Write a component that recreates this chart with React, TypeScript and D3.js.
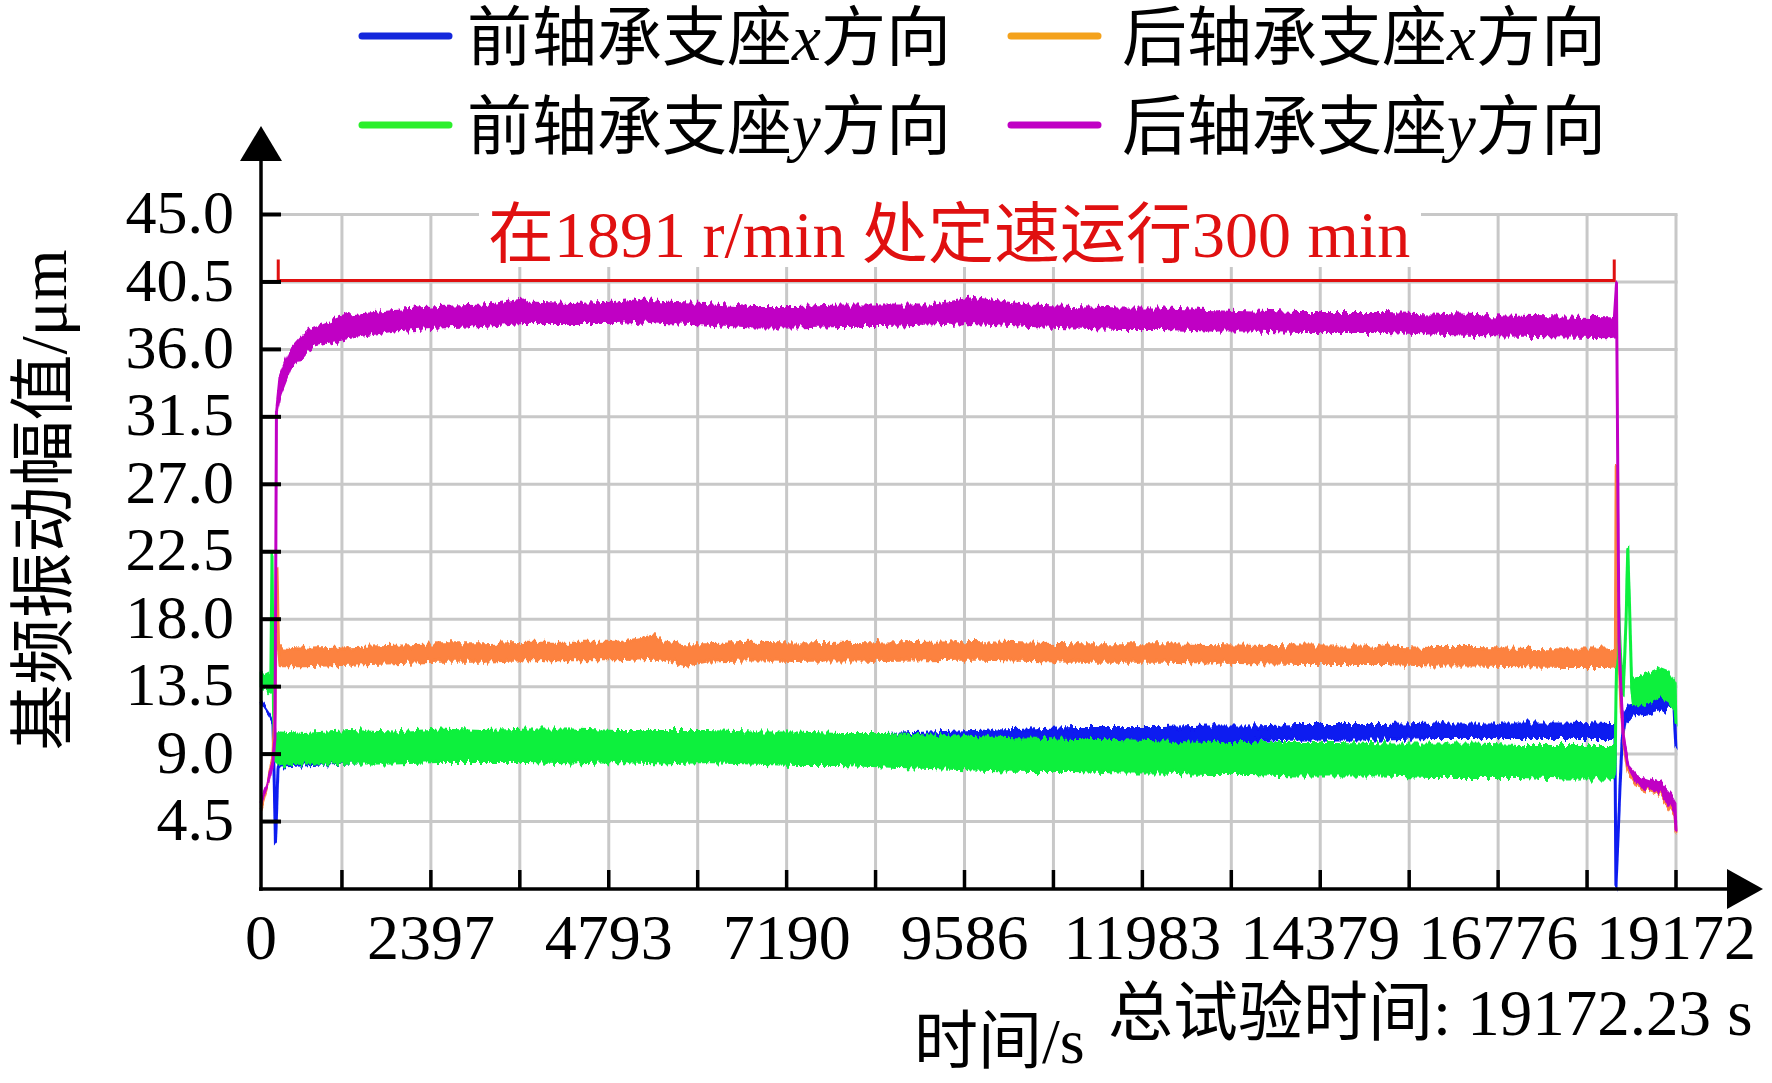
import { useEffect, useRef } from "react";
import * as d3 from "d3";

const WIDTH = 1772;
const HEIGHT = 1083;

const LATIN = "'Liberation Serif', 'Noto Sans CJK SC', serif";

// total test time, s
const TOTAL_TIME = 19172;
const xTickLabels = ["0", "2397", "4793", "7190", "9586", "11983", "14379", "16776", "19172"];
const yTickValues = [4.5, 9, 13.5, 18, 22.5, 27, 31.5, 36, 40.5, 45];

// constant speed run (300 min) bracket
const runStart = 340;
const runEnd = 18340;
const bracketLevel = 40.6;

const annotation = "在1891 r/min 处定速运行300 min";
const xTitle = "时间/s";
const totalNote = "总试验时间: 19172.23 s";
const yTitle = "基频振动幅值/μm";

// legend: [before, italic letter, after]
const legendLabels: [string, string, string][] = [
	["前轴承支座", "x", "方向"],
	["后轴承支座", "x", "方向"],
	["前轴承支座", "y", "方向"],
	["后轴承支座", "y", "方向"],
];
const legendColors = ["#1428dc", "#f4a21c", "#2cef2c", "#c000c4"];

// [time s, band low, band high] in um
const frontX: [number, number, number][] = [
	[110, 12.5, 12.5], [175, 12.0, 12.0], [229, 11.6, 11.6], [269, 11.2, 11.2],
	[303, 3.0, 3.0], [337, 8.0, 8.0], [364, 8.2, 8.9], [800, 8.3, 9.1],
	[1293, 8.4, 9.2], [1900, 8.5, 9.3], [2500, 8.5, 9.4], [3100, 8.6, 9.4],
	[3705, 8.6, 9.4], [4300, 8.7, 9.6], [4904, 8.8, 9.6], [5500, 8.9, 9.7],
	[6103, 9.0, 9.8], [6700, 9.1, 9.9], [7316, 9.2, 10.0], [7900, 9.3, 10.1],
	[8515, 9.4, 10.3], [9116, 9.5, 10.4], [9707, 9.7, 10.5], [10455, 9.8, 10.6],
	[11062, 9.8, 10.7], [11662, 9.8, 10.7], [12260, 9.9, 10.7], [12867, 9.9, 10.8],
	[13466, 9.9, 10.8], [14066, 10.0, 10.9], [14672, 10.0, 10.9], [15265, 10.0, 10.9],
	[15871, 10.1, 11.0], [16473, 10.1, 11.0], [17070, 10.1, 11.0], [17676, 10.1, 11.0],
	[18277, 10.1, 10.9], [18335, 10.1, 10.9], [18350, 10.2, 10.2], [18362, 0, 0],
	[18404, 5, 5], [18424, 7.5, 7.5], [18444, 9.7, 9.7], [18485, 11.2, 11.8],
	[18552, 11.5, 12.3], [18821, 11.7, 12.5], [19024, 12.0, 12.8], [19118, 12.2, 13.0],
	[19145, 11.9, 12.6], [19172, 9.4, 9.4],
];

const frontY: [number, number, number][] = [
	[110, 13.3, 14.4], [202, 13.2, 14.2], [240, 13.0, 14.0], [256, 22.2, 22.2],
	[276, 12, 12], [296, 8.6, 10.3], [364, 8.3, 10.4], [695, 8.4, 10.3],
	[1293, 8.4, 10.5], [1900, 8.4, 10.4], [2500, 8.5, 10.6], [3100, 8.5, 10.5],
	[3705, 8.5, 10.6], [4305, 8.4, 10.6], [4904, 8.5, 10.5], [5510, 8.4, 10.5],
	[6103, 8.5, 10.5], [6710, 8.4, 10.4], [7316, 8.3, 10.4], [7909, 8.3, 10.3],
	[8515, 8.2, 10.3], [9116, 8.1, 10.2], [9707, 8.0, 10.1], [10455, 7.9, 10.0],
	[11061, 7.9, 9.9], [11662, 7.8, 9.9], [12260, 7.8, 9.8], [12867, 7.7, 9.7],
	[13466, 7.7, 9.7], [14066, 7.6, 9.7], [14672, 7.6, 9.7], [15265, 7.6, 9.6],
	[15871, 7.5, 9.6], [16473, 7.5, 9.6], [17070, 7.5, 9.5], [17676, 7.4, 9.5],
	[18277, 7.4, 9.5], [18340, 7.5, 9.5], [18352, 8.5, 8.5], [18364, 13, 13],
	[18390, 20, 20], [18420, 16, 16], [18460, 13, 13], [18500, 18, 18],
	[18522, 22.8, 22.8], [18545, 19, 19], [18575, 13.5, 13.5], [18600, 12.3, 14.0],
	[18700, 12.3, 14.1], [18820, 12.5, 14.4], [18960, 12.9, 14.7], [19060, 12.6, 14.5],
	[19130, 12.0, 13.9], [19160, 11.9, 13.6], [19172, 11.1, 11.1],
];

const rearX: [number, number, number][] = [
	[110, 5.4, 5.4], [202, 7.0, 7.0], [269, 9.0, 9.0], [296, 12.0, 12.0],
	[323, 21.5, 21.5], [345, 16.0, 16.0], [364, 14.9, 16.1], [695, 14.9, 16.0],
	[1293, 15.0, 16.1], [1900, 15.1, 16.2], [2500, 15.2, 16.3], [3099, 15.2, 16.3],
	[3705, 15.3, 16.4], [4305, 15.3, 16.4], [4904, 15.3, 16.4], [5416, 15.4, 16.9],
	[5510, 15.4, 16.5], [5807, 14.9, 16.3], [6103, 15.2, 16.3], [6710, 15.3, 16.4],
	[7316, 15.25, 16.35], [7909, 15.3, 16.4], [8515, 15.25, 16.35], [9116, 15.3, 16.4],
	[9707, 15.35, 16.45], [10455, 15.25, 16.35], [11061, 15.2, 16.3], [11662, 15.2, 16.3],
	[12260, 15.2, 16.3], [12867, 15.15, 16.25], [13466, 15.1, 16.2], [14066, 15.05, 16.15],
	[14672, 15.05, 16.15], [15265, 15.05, 16.15], [15871, 14.95, 16.05], [16473, 14.95, 16.05],
	[17070, 14.9, 16.0], [17676, 14.85, 15.95], [18277, 14.85, 15.95], [18345, 14.9, 15.9],
	[18355, 15.4, 15.4], [18366, 28.2, 28.2], [18390, 18, 18], [18430, 12, 12],
	[18480, 9.3, 9.3], [18525, 7.8, 7.8], [18646, 6.9, 6.9], [18956, 6.3, 6.3],
	[19158, 4.9, 4.9], [19172, 3.8, 3.8],
];

const rearY: [number, number, number][] = [
	[110, 5.8, 5.8], [202, 7.0, 7.0], [269, 8.5, 8.5], [296, 10, 10],
	[316, 31.8, 31.8], [364, 33.0, 34.1], [498, 34.7, 35.9], [695, 35.8, 37.0],
	[808, 36.2, 37.4], [1293, 36.8, 38.3], [1900, 37.3, 38.6], [2500, 37.5, 38.8],
	[3099, 37.6, 38.9], [3640, 37.8, 39.3], [3705, 37.8, 39.1], [4305, 37.8, 39.0],
	[4904, 37.8, 39.1], [5270, 37.9, 39.3], [5510, 37.8, 39.1], [6103, 37.7, 39.0],
	[6710, 37.5, 38.8], [7316, 37.5, 38.8], [7909, 37.6, 38.9], [8515, 37.6, 38.9],
	[9116, 37.7, 38.9], [9707, 37.8, 39.4], [10455, 37.6, 38.9], [11061, 37.5, 38.8],
	[11662, 37.4, 38.7], [12260, 37.4, 38.7], [12867, 37.3, 38.6], [13466, 37.3, 38.5],
	[14066, 37.2, 38.4], [14672, 37.2, 38.4], [15265, 37.2, 38.4], [15871, 37.1, 38.3],
	[16473, 37.0, 38.2], [17070, 36.95, 38.15], [17676, 36.9, 38.1], [18277, 36.85, 38.05],
	[18340, 36.9, 38.0], [18370, 40.3, 40.3], [18404, 16.5, 16.5], [18458, 10.3, 10.3],
	[18525, 8.2, 8.2], [18646, 7.1, 7.5], [18956, 6.4, 7.0], [19100, 5.6, 6.2],
	[19158, 5.1, 5.7], [19172, 3.9, 3.9],
];

// draw order: blue under green, orange under magenta
const seriesList = [
	{ data: frontX, color: "#0b1af0" },
	{ data: frontY, color: "#08f03c" },
	{ data: rearX, color: "#fc823f" },
	{ data: rearY, color: "#c000c4" },
];

function drawChart(el: SVGSVGElement) {
	const svg = d3.select(el);
	svg.selectAll("*").remove();

	const axisX = 261;
	const x = d3.scaleLinear().domain([0, TOTAL_TIME]).range([253, 1676]);
	const y = d3.scaleLinear().domain([0, 45]).range([889, 214.5]);

	svg.append("rect").attr("width", WIDTH).attr("height", HEIGHT).attr("fill", "#fff");

	// rough edge look of the sampled signal (vertical-only displacement)
	const filter = svg
		.append("defs")
		.append("filter")
		.attr("id", "rough")
		.attr("filterUnits", "userSpaceOnUse")
		.attr("x", 0)
		.attr("y", 0)
		.attr("width", WIDTH)
		.attr("height", HEIGHT);
	filter
		.append("feTurbulence")
		.attr("type", "fractalNoise")
		.attr("baseFrequency", "0.3 0.03")
		.attr("numOctaves", 2)
		.attr("seed", 7)
		.attr("result", "noise");
	filter
		.append("feColorMatrix")
		.attr("in", "noise")
		.attr("type", "matrix")
		.attr("values", "0 0 0 0 0.5  0 1 0 0 0  0 0 1 0 0  0 0 0 0 1")
		.attr("result", "shift");
	filter
		.append("feDisplacementMap")
		.attr("in", "SourceGraphic")
		.attr("in2", "shift")
		.attr("scale", 12)
		.attr("xChannelSelector", "R")
		.attr("yChannelSelector", "G");

	// grid
	const minorTimes = d3.range(1, 17).map((k) => (k * TOTAL_TIME) / 16);
	const grid = svg.append("g").attr("stroke", "#c8c8c8").attr("stroke-width", 3);
	grid
		.selectAll("line.h")
		.data(yTickValues)
		.enter()
		.append("line")
		.attr("x1", axisX)
		.attr("x2", x(TOTAL_TIME) + 1.5)
		.attr("y1", (d) => y(d))
		.attr("y2", (d) => y(d));
	grid
		.selectAll("line.v")
		.data(minorTimes)
		.enter()
		.append("line")
		.attr("x1", (d) => x(d))
		.attr("x2", (d) => x(d))
		.attr("y1", y(45))
		.attr("y2", y(0));

	// annotation box hides grid behind text
	svg.append("rect").attr("x", 479).attr("y", 196).attr("width", 942).attr("height", 71).attr("fill", "#fff");
	svg
		.append("text")
		.attr("x", 488)
		.attr("y", 257)
		.attr("font-family", LATIN)
		.attr("font-size", 66)
		.attr("fill", "#e01010")
		.text(annotation);

	// red bracket
	const by = y(bracketLevel);
	svg
		.append("path")
		.attr("d", `M${x(runStart)},${by - 21}V${by}H${x(runEnd)}V${by - 21}`)
		.attr("fill", "none")
		.attr("stroke", "#e01010")
		.attr("stroke-width", 3);

	// series bands
	const area = d3
		.area<[number, number, number]>()
		.x((d) => x(d[0]))
		.y0((d) => y(d[1]))
		.y1((d) => y(d[2]));
	const bands = svg.append("g").attr("filter", "url(#rough)");
	seriesList.forEach((s) => {
		bands
			.append("path")
			.attr("d", area(s.data))
			.attr("fill", s.color)
			.attr("stroke", s.color)
			.attr("stroke-width", 3)
			.attr("stroke-linejoin", "round");
	});

	// axes
	const axis = svg.append("g").attr("stroke", "#000");
	axis.append("line").attr("x1", axisX - 2).attr("x2", 1730).attr("y1", y(0)).attr("y2", y(0)).attr("stroke-width", 3.5);
	axis.append("line").attr("x1", axisX).attr("x2", axisX).attr("y1", y(0) + 1.7).attr("y2", 158).attr("stroke-width", 3.5);
	svg.append("path").attr("d", `M${axisX},126L${axisX + 21},161L${axisX - 21},161Z`).attr("fill", "#000");
	svg.append("path").attr("d", `M1763,${y(0)}L1727,${y(0) - 20}L1727,${y(0) + 20}Z`).attr("fill", "#000");

	axis
		.selectAll("line.xt")
		.data(minorTimes)
		.enter()
		.append("line")
		.attr("x1", (d) => x(d))
		.attr("x2", (d) => x(d))
		.attr("y1", y(0))
		.attr("y2", y(0) - 19)
		.attr("stroke-width", 3.5);
	axis
		.selectAll("line.yt")
		.data(yTickValues)
		.enter()
		.append("line")
		.attr("x1", axisX)
		.attr("x2", axisX + 20)
		.attr("y1", (d) => y(d))
		.attr("y2", (d) => y(d))
		.attr("stroke-width", 4);

	// tick labels
	svg
		.append("g")
		.attr("font-family", LATIN)
		.attr("font-size", 62)
		.attr("text-anchor", "end")
		.selectAll("text")
		.data(yTickValues)
		.enter()
		.append("text")
		.attr("x", 234)
		.attr("y", (d) => y(d))
		.attr("dy", "0.3em")
		.text((d) => d.toFixed(1));

	svg
		.append("g")
		.attr("font-family", LATIN)
		.attr("font-size", 64)
		.attr("text-anchor", "middle")
		.selectAll("text")
		.data(xTickLabels)
		.enter()
		.append("text")
		.attr("x", (d, i) => (i === 0 ? axisX : x((i * TOTAL_TIME) / 8)))
		.attr("y", 959)
		.text((d) => d);

	// titles
	svg
		.append("text")
		.attr("transform", "translate(66,500) rotate(-90)")
		.attr("text-anchor", "middle")
		.attr("font-family", LATIN)
		.attr("font-size", 66)
		.text(yTitle);
	svg.append("text").attr("x", 914).attr("y", 1063).attr("font-family", LATIN).attr("font-size", 64).text(xTitle);
	svg.append("text").attr("x", 1108).attr("y", 1035).attr("font-family", LATIN).attr("font-size", 65).text(totalNote);

	// legend, 2 x 2
	const legend = svg.append("g").attr("font-family", LATIN).attr("font-size", 65);
	legendLabels.forEach((lab, i) => {
		const col = i % 2;
		const row = Math.floor(i / 2);
		const lx = col === 0 ? 362 : 1011;
		const ly = row === 0 ? 36 : 125;
		legend
			.append("line")
			.attr("x1", lx)
			.attr("x2", lx + 87)
			.attr("y1", ly)
			.attr("y2", ly)
			.attr("stroke", legendColors[i])
			.attr("stroke-width", 7)
			.attr("stroke-linecap", "round");
		const t = legend
			.append("text")
			.attr("x", col === 0 ? 467 : 1122)
			.attr("y", ly + 24);
		t.append("tspan").text(lab[0]);
		t.append("tspan").attr("font-style", "italic").text(lab[1]);
		t.append("tspan").text(lab[2]);
	});
}

export default function App() {
	const ref = useRef<SVGSVGElement | null>(null);
	useEffect(() => {
		if (ref.current) drawChart(ref.current);
	}, []);
	return (
		<svg
			ref={ref}
			width={WIDTH}
			height={HEIGHT}
			style={{ position: "absolute", left: 0, top: 0, display: "block" }}
		/>
	);
}
